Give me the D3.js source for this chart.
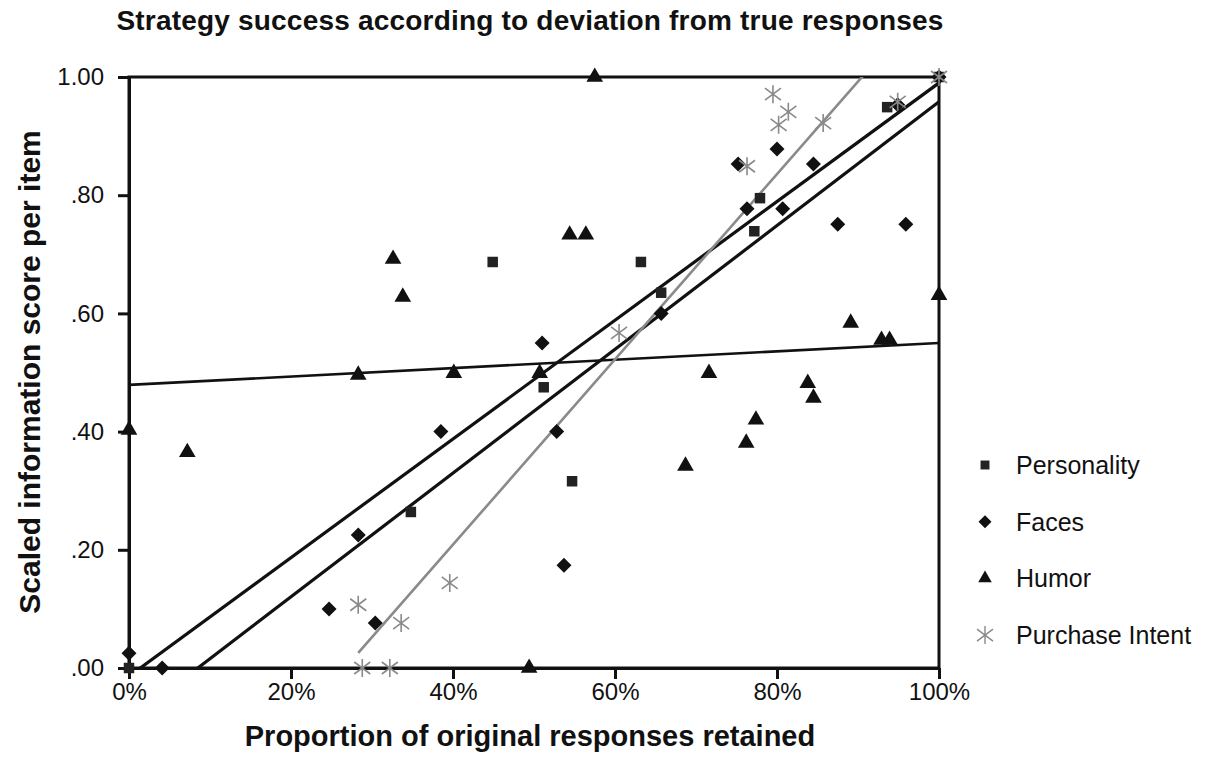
<!DOCTYPE html>
<html>
<head>
<meta charset="utf-8">
<script src="https://cdn.jsdelivr.net/npm/d3@7.9.0/dist/d3.min.js"></script>
<style>
  body { margin: 0; background: #fff; }
  text { font-family: "Liberation Sans", Arial, Helvetica, sans-serif; fill: #111; }
</style>
</head>
<body>
<svg id="chart" width="1212" height="779"></svg>
<script>
// values (x = proportion retained, y = scaled score)
const seriesNames = ['Personality', 'Faces', 'Humor', 'Purchase Intent'];

const personalityX = [0, .348, .449, .512, .547, .632, .657, .772, .779, .936, 1.0];
const personalityY = [0, .264, .687, .475, .316, .687, .635, .739, .795, .949, 1.0];

const facesX = [0, .041, .247, .283, .304, .385, .510, .528, .537, .657, .752, .763, .800, .807, .845, .875, .949, .959, 1.0];
const facesY = [.025, 0, .100, .225, .076, .400, .550, .400, .174, .600, .853, .777, .878, .777, .853, .751, .953, .751, 1.0];

const humorX = [0, .072, .283, .326, .338, .401, .494, .507, .544, .564, .575, .687, .716, .762, .774, .838, .845, .891, .929, .939, 1.0];
const humorY = [.403, .365, .496, .692, .628, .499, 0, .499, .733, .733, 1.0, .342, .499, .381, .420, .482, .457, .584, .555, .555, .631];

const purchaseX = [.283, .288, .322, .336, .396, .605, .763, .795, .802, .814, .857, .949, 1.0];
const purchaseY = [.107, 0, 0, .076, .144, .567, .849, .971, .919, .941, .922, .958, 1.0];

// linear trend lines (intercept, slope, x range)
const trendIntercept = [-0.089, -0.014, 0.479, -0.418];
const trendSlope = [1.047, 1.004, 0.071, 1.567];
const trendStart = [0, 0, 0, 0.283];
const trendEnd = [1, 1, 1, 1];

const xTicks = [0, .2, .4, .6, .8, 1];
const yTicks = [0, .2, .4, .6, .8, 1];

const svg = d3.select('#chart');
const margin = { left: 129, right: 273, top: 77, bottom: 111 };
const width = 1212 - margin.left - margin.right;
const height = 779 - margin.top - margin.bottom;

const x = d3.scaleLinear().domain([0, 1]).range([margin.left, margin.left + width]);
const y = d3.scaleLinear().domain([0, 1]).range([margin.top + height, margin.top]);

// title
svg.append('text')
  .attr('x', 530).attr('y', 30)
  .attr('text-anchor', 'middle')
  .style('font-size', '28px').style('font-weight', 'bold')
  .style('letter-spacing', '0.2px')
  .text('Strategy success according to deviation from true responses');

// axis labels
svg.append('text')
  .attr('x', 530).attr('y', 746)
  .attr('text-anchor', 'middle')
  .style('font-size', '29px').style('font-weight', 'bold')
  .text('Proportion of original responses retained');

svg.append('text')
  .attr('transform', 'translate(40,372) rotate(-90)')
  .attr('text-anchor', 'middle')
  .style('font-size', '30px').style('font-weight', 'bold')
  .text('Scaled information score per item');

// clip for trend lines
svg.append('clipPath').attr('id', 'plotClip')
  .append('rect')
  .attr('x', margin.left).attr('y', margin.top)
  .attr('width', width).attr('height', height);

// frame
svg.append('rect')
  .attr('x', margin.left).attr('y', margin.top)
  .attr('width', width).attr('height', height)
  .attr('fill', 'none').attr('stroke', '#111').attr('stroke-width', 3);

// axes
const xAxis = svg.append('g')
  .attr('transform', `translate(0,${margin.top + height})`)
  .call(d3.axisBottom(x).tickValues(xTicks).tickFormat(d3.format('.0%')).tickSize(11).tickSizeOuter(0).tickPadding(4));

const yAxis = svg.append('g')
  .attr('transform', `translate(${margin.left},0)`)
  .call(d3.axisLeft(y).tickValues(yTicks)
    .tickFormat(v => v === 1 ? '1.00' : d3.format('.2f')(v).replace(/^0/, ''))
    .tickSize(11).tickSizeOuter(0).tickPadding(14));

[xAxis, yAxis].forEach(g => {
  g.select('.domain').attr('stroke', '#111').attr('stroke-width', 3);
  g.selectAll('.tick line').attr('stroke', '#111').attr('stroke-width', 3);
  g.selectAll('.tick text')
    .style('font-family', '"Liberation Sans", Arial, sans-serif')
    .style('font-size', '24px').attr('fill', '#111');
});

// trend lines
const trendColor = ['#111', '#111', '#111', '#8a8a8a'];
const trendWidth = [3.2, 3.2, 2.6, 2.6];
const trendGroup = svg.append('g').attr('clip-path', 'url(#plotClip)');
seriesNames.forEach((name, i) => {
  const x0 = trendStart[i], x1 = trendEnd[i];
  trendGroup.append('line')
    .attr('x1', x(x0)).attr('y1', y(trendIntercept[i] + trendSlope[i] * x0))
    .attr('x2', x(x1)).attr('y2', y(trendIntercept[i] + trendSlope[i] * x1))
    .attr('stroke', trendColor[i]).attr('stroke-width', trendWidth[i]);
});

// markers
const asterisk = 'M0,-9L0,9M-8,-6L8,6M-8,6L8,-6';
const diamond = r => `M0,${-r}L${r},0L0,${r}L${-r},0Z`;
const shapes = {
  'Personality': { d: d3.symbol(d3.symbolSquare, 110)(), fill: '#222', stroke: 'none' },
  'Faces': { d: diamond(7.5), fill: '#111', stroke: 'none' },
  'Humor': { d: d3.symbol(d3.symbolTriangle, 120)(), fill: '#111', stroke: 'none' },
  'Purchase Intent': { d: asterisk, fill: 'none', stroke: '#8a8a8a' }
};

const seriesData = [
  [personalityX, personalityY],
  [facesX, facesY],
  [humorX, humorY],
  [purchaseX, purchaseY]
];

seriesNames.forEach((name, i) => {
  const [xs, ys] = seriesData[i];
  const pts = xs.map((v, j) => ({ x: v, y: ys[j] }));
  const s = shapes[name];
  svg.append('g').selectAll('path')
    .data(pts)
    .join('path')
    .attr('transform', d => `translate(${x(d.x)},${y(d.y)})`)
    .attr('d', s.d)
    .attr('fill', s.fill)
    .attr('stroke', s.stroke)
    .attr('stroke-width', 1.6);
});

// legend
const legend = svg.append('g').attr('transform', 'translate(985,465)');
seriesNames.forEach((name, i) => {
  const s = shapes[name];
  const row = legend.append('g').attr('transform', `translate(0,${i * 56.7})`);
  const small = name === 'Purchase Intent' ? asterisk : (name === 'Personality'
    ? d3.symbol(d3.symbolSquare, 80)() : name === 'Faces'
    ? diamond(6.5) : d3.symbol(d3.symbolTriangle, 80)());
  row.append('path')
    .attr('d', small)
    .attr('fill', s.fill).attr('stroke', s.stroke).attr('stroke-width', 1.4);
  row.append('text')
    .attr('x', 31).attr('y', 0).attr('dy', '0.36em')
    .style('font-size', '25px')
    .text(name);
});
</script>
</body>
</html>
